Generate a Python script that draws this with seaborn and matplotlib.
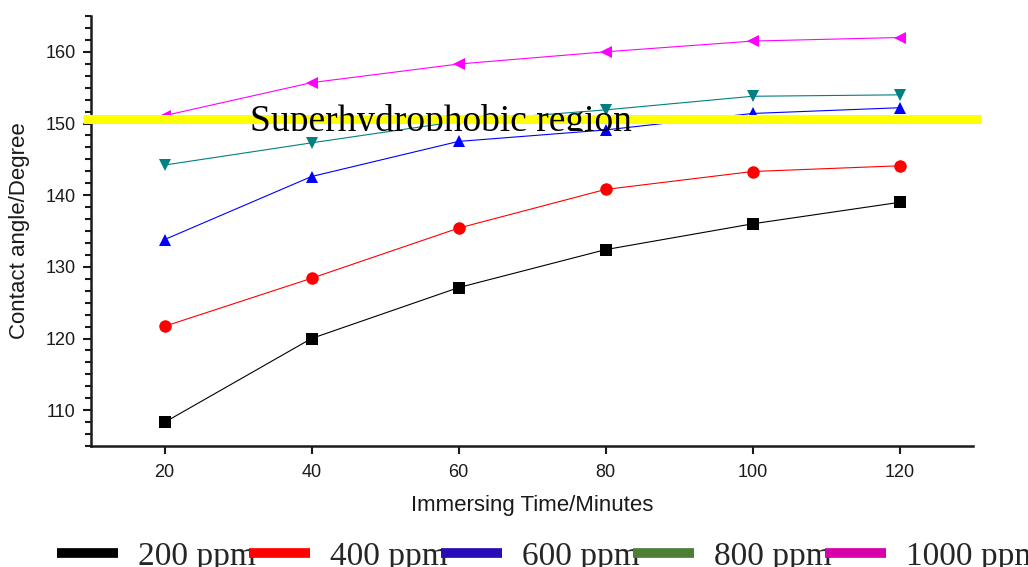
import numpy as np
import pandas as pd
import matplotlib
matplotlib.use("Agg")
import matplotlib.pyplot as plt
import seaborn as sns
from matplotlib.lines import Line2D
from matplotlib.ticker import MultipleLocator
from matplotlib.transforms import Bbox, TransformedBbox

# ---- data ----
times = [20, 40, 60, 80, 100, 120]
ppm200 = [108.3, 120.0, 127.1, 132.4, 136.0, 139.0]
ppm400 = [121.7, 128.4, 135.4, 140.8, 143.3, 144.1]
ppm600 = [133.8, 142.6, 147.5, 149.1, 151.4, 152.2]
ppm800 = [144.2, 147.3, 150.3, 151.9, 153.8, 154.0]
ppm1000 = [151.1, 155.7, 158.3, 160.0, 161.5, 162.0]
series_names = ["200 ppm", "400 ppm", "600 ppm", "800 ppm", "1000 ppm"]
series_values = [ppm200, ppm400, ppm600, ppm800, ppm1000]
threshold = 150.6
region_label = "Superhydrophobic region"
xticks = [20, 40, 60, 80, 100, 120]
yticks = [110, 120, 130, 140, 150, 160]

line_colors = ["#000000", "#ff0000", "#0000ff", "#008080", "#ff00ff"]
legend_colors = ["#000000", "#ff0000", "#2b0bb8", "#4c7f35", "#d800a8"]
markers = ["s", "o", "^", "v", "<"]

df = pd.DataFrame({
    "time": np.tile(times, len(series_names)),
    "angle": np.concatenate(series_values),
    "series": np.repeat(series_names, len(times)),
})

sns.set_style("ticks")
plt.rcParams["font.family"] = ["Liberation Sans", "DejaVu Sans"]

fig = plt.figure(figsize=(10.28, 5.67), dpi=100)
ax = fig.add_axes([91/1028, 1-446/567, (973-91)/1028, (446-16)/567])

for name, col, mk in zip(series_names, line_colors, markers):
    sub = df[df["series"] == name]
    sns.lineplot(data=sub, x="time", y="angle", color=col, marker=mk,
                 markersize=9, markeredgewidth=0, linewidth=0.8,
                 legend=False, ax=ax, zorder=2)

ax.set_xlim(10, 130)
ax.set_ylim(105, 165)
ax.set_xticks(xticks)
ax.set_yticks(yticks)
ax.yaxis.set_minor_locator(MultipleLocator(10/6))
ax.tick_params(axis="both", which="major", direction="out", length=6, width=1.5,
               labelsize=13, pad=5, color="#1a1a1a", labelcolor="#1a1a1a")
ax.tick_params(axis="x", which="major", pad=7)
ax.tick_params(axis="y", which="minor", direction="out", length=4, width=1.5,
               color="#1a1a1a")
for s in ["top", "right"]:
    ax.spines[s].set_visible(False)
for s in ["left", "bottom"]:
    ax.spines[s].set_linewidth(1.8)
    ax.spines[s].set_color("#1a1a1a")

ax.set_xlabel("Immersing Time/Minutes", fontsize=16, labelpad=10, color="#1a1a1a")
ax.set_ylabel("Contact angle/Degree", fontsize=16, labelpad=11, color="#1a1a1a")

# yellow threshold band
ax.plot([-0.009, 1.009], [threshold, threshold], color="#ffff00", linewidth=6.5,
        transform=ax.get_yaxis_transform(), clip_on=False, zorder=3,
        solid_capstyle="butt")

t = ax.text(31.6, 149.0, region_label, fontsize=27, family="Liberation Serif",
            color="black", ha="left", va="baseline", zorder=4)
t.set_clip_box(TransformedBbox(Bbox([[10, 148.9], [130, 170]]), ax.transData))
t.set_clip_on(True)

handles = [Line2D([], [], color=c, linewidth=7, solid_capstyle="butt")
           for c in legend_colors]
fig.legend(handles, series_names, loc="upper left", bbox_to_anchor=(57/1028, 1-541/567),
           ncol=5, frameon=False, borderpad=0, borderaxespad=0,
           handlelength=1.83, handletextpad=0.6, columnspacing=-0.2,
           prop={"family": "Liberation Serif", "size": 24})

fig.savefig("out.png", dpi=100)
